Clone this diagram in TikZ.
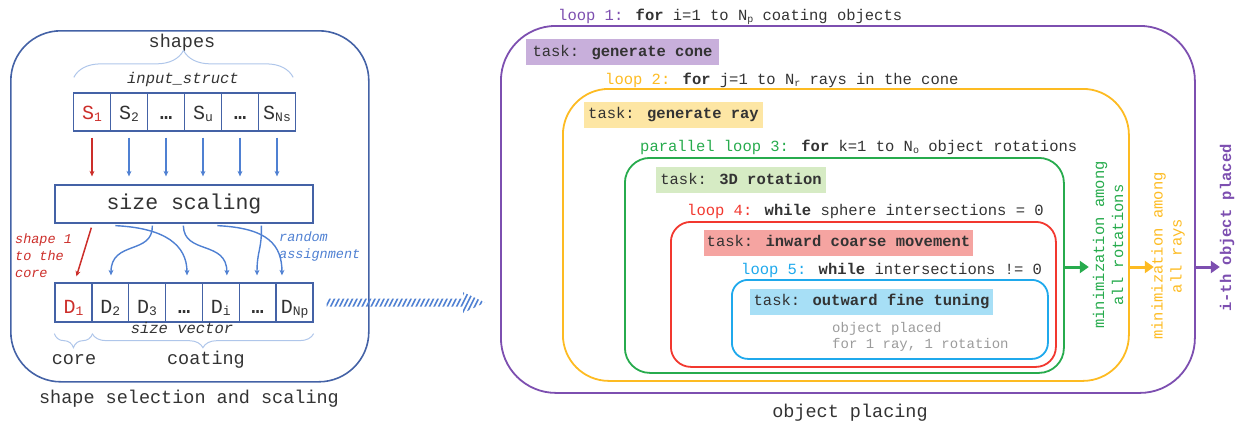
\documentclass[tikz,border=0pt]{standalone}
\usepackage{fontspec}
\setmainfont{Liberation Mono}
\usetikzlibrary{arrows.meta,decorations.pathreplacing,calc}
\definecolor{panelblue}{HTML}{4462A6}
\definecolor{arrblue}{HTML}{4F80D2}
\definecolor{bracecol}{HTML}{AFC6EA}
\definecolor{redL}{HTML}{CC2E2A}
\definecolor{txt}{HTML}{333333}
\definecolor{cpurple}{HTML}{7D4FB0}
\definecolor{fpurple}{HTML}{C8AFDB}
\definecolor{cyellow}{HTML}{FDBB22}
\definecolor{fyellow}{HTML}{FDE6A4}
\definecolor{cgreen}{HTML}{27AB4D}
\definecolor{fgreen}{HTML}{D6EBC4}
\definecolor{cred}{HTML}{F2382F}
\definecolor{fred}{HTML}{F5A4A1}
\definecolor{cblue}{HTML}{1FA9EC}
\definecolor{fblue}{HTML}{A7DFF6}
\definecolor{gtxt}{HTML}{9B9B9B}
\newcommand{\lsub}[1]{\raisebox{-2.5pt}{\fontsize{10}{10}\selectfont #1}}
\newcommand{\csub}[1]{\raisebox{-2.5pt}{\fontsize{13}{13}\selectfont #1}}
\begin{document}
\begin{tikzpicture}[x=1pt,y=-1pt,
  every node/.style={text=txt},
  panel/.style={draw=panelblue, line width=1.6pt, rounded corners=50pt, inner sep=0pt, anchor=north west},
  cellS/.style={draw=panelblue, line width=1.3pt, minimum width=37pt, minimum height=38pt, inner sep=0pt, font=\fontsize{20}{20}\selectfont, text height=15pt, text depth=1pt},
  cellD/.style={draw=panelblue, line width=1.3pt, minimum width=36.86pt, minimum height=39pt, inner sep=0pt, font=\fontsize{20}{20}\selectfont, text height=22pt, text depth=1pt},
  sarrow/.style={line width=1.4pt, arrblue, -{Stealth[length=5.5pt,width=5pt]}},
  bracestyle/.style={bracecol, line width=1pt, decorate},
  bigtxt/.style={font=\fontsize{18.5}{20}\selectfont, inner sep=0pt, anchor=base},
  itxt/.style={font=\fontsize{15.5}{18}\itshape\selectfont, inner sep=0pt, anchor=base},
  smallit/.style={font=\fontsize{13.5}{17}\itshape\selectfont, inner sep=0pt, align=left, anchor=west},
  loopbox/.style={line width=1.8pt, inner sep=0pt, anchor=north west},
  task/.style={minimum height=26pt, inner sep=0pt, font=\fontsize{15.5}{18}\selectfont, text height=10pt, text depth=2pt},
  lab/.style={anchor=base west, inner sep=0pt, font=\fontsize{15.5}{18}\selectfont},
  rottxt/.style={rotate=90, align=center, inner sep=0pt, font=\fontsize{15.5}{19}\selectfont},
  bigarrow/.style={line width=3pt, -{Triangle[length=9pt,width=12pt]}}
]
\useasboundingbox (0,0) rectangle (1239,424);

% ---------------- left panel ----------------
\node[panel, minimum width=358pt, minimum height=351pt] (leftpanel) at (10,30) {};
\node[bigtxt] (shapes) at (182,47) {shapes};
\node[itxt] (instruct) at (183,83) {input\_struct};

\node[cellS, text=redL] (s1) at (92,112) {S\csub{1}};
\node[cellS] (s2) at (129,112) {S\csub{2}};
\node[cellS] (s3) at (166,112) {\textbf{…}};
\node[cellS] (s4) at (203,112) {S\csub{u}};
\node[cellS] (s5) at (240,112) {\textbf{…}};
\node[cellS] (s6) at (277,112) {S\csub{Ns}};

\draw[bracestyle, decoration={brace, amplitude=27pt}] ($(s1.north west)+(1,-15)$) -- ($(s6.north east)+(-3,-15)$);

\node[draw=panelblue, line width=1.3pt, minimum width=258pt, minimum height=38pt, inner sep=0pt, font=\fontsize{21.5}{24}\selectfont] (scale) at (184,204) {size scaling};

\draw[sarrow, redL, shorten <=6pt, shorten >=8pt] (s1.south) -- (s1.south |- scale.north);
\foreach \n in {s2,s3,s4,s5,s6}
  \draw[sarrow, shorten <=6pt, shorten >=8pt] (\n.south) -- (\n.south |- scale.north);

\node[cellD, text=redL] (d1) at (73.43,302.5) {D\csub{1}};
\node[cellD] (d2) at (110.29,302.5) {D\csub{2}};
\node[cellD] (d3) at (147.14,302.5) {D\csub{3}};
\node[cellD] (d4) at (184,302.5) {\textbf{…}};
\node[cellD] (d5) at (220.86,302.5) {D\csub{i}};
\node[cellD] (d6) at (257.71,302.5) {\textbf{…}};
\node[cellD] (d7) at (294.57,302.5) {D\csub{Np}};

\draw[sarrow, redL, line width=1.5pt] ($(scale.south west)+(37,4)$) -- ($(d1.north)+(3,-6)$);
\draw[sarrow] ($(scale.south west)+(61,2)$) .. controls (165,228) and (187,245) .. ($(d4.north)+(3,-7)$);
\draw[sarrow] ($(scale.south west)+(98,2)$) .. controls (153,255) and (111,240) .. ($(d2.north)+(0.7,-7)$);
\draw[sarrow] ($(scale.south west)+(129,2)$) .. controls (184,255) and (227,240) .. ($(d5.north)+(6,-7)$);
\draw[sarrow] ($(scale.south west)+(207,2)$) .. controls (262,250) and (257,250) .. ($(d6.north)+(-0.7,-7)$);
\draw[sarrow] ($(scale.south west)+(163,2)$) .. controls (268,228) and (282,245) .. ($(d7.north)+(-12.6,-7)$);

\node[smallit, text=redL] (corelab) at (15,256) {shape 1\\to the\\core};
\node[smallit, text=arrblue] (randlab) at (279,246) {random\\assignment};

\node[itxt] (sizevec) at (182,333) {size vector};
\draw[bracestyle, decoration={brace, mirror, amplitude=14pt}] ($(d1.south west)+(0,11)$) -- ($(d1.south east)+(0,11)$);
\draw[bracestyle, decoration={brace, mirror, amplitude=14pt}] ($(d2.south west)+(1,11)$) -- ($(d7.south east)+(0,11)$);
\node[bigtxt] (core) at (74,364) {core};
\node[bigtxt] (coating) at (206,364) {coating};
\node[bigtxt] (leftcap) at (189,403) {shape selection and scaling};

% ---------------- right panel ----------------
\node[loopbox, draw=cpurple, rounded corners=55pt, minimum width=694pt, minimum height=367pt] (L1) at (500,25) {};
\node[loopbox, draw=cyellow, rounded corners=46pt, minimum width=566pt, minimum height=292pt] (L2) at (562,88) {};
\node[loopbox, draw=cgreen, rounded corners=25pt, minimum width=439pt, minimum height=215pt] (L3) at (624,157) {};
\node[loopbox, draw=cred, rounded corners=20pt, minimum width=385pt, minimum height=145pt] (L4) at (670,221) {};
\node[loopbox, draw=cblue, rounded corners=16pt, minimum width=316pt, minimum height=79pt] (L5) at (731,279) {};

\node[lab] (lab1) at (558,20) {{\color{cpurple}loop 1:} \textbf{for} i=1 to N\lsub{p} coating objects};
\node[lab] (lab2) at (605,84) {{\color{cyellow}loop 2:} \textbf{for} j=1 to N\lsub{r} rays in the cone};
\node[lab] (lab3) at (640,151) {{\color{cgreen}parallel loop 3:} \textbf{for} k=1 to N\lsub{o} object rotations};
\node[lab] (lab4) at (687,215) {{\color{cred}loop 4:} \textbf{while} sphere intersections = 0};
\node[lab] (lab5) at (741,274) {{\color{cblue}loop 5:} \textbf{while} intersections != 0};

\node[task, fill=fpurple, minimum width=193pt] (t1) at (622.5,52) {task: \textbf{generate cone}};
\node[task, fill=fyellow, minimum width=179pt] (t2) at (673.5,114.5) {task: \textbf{generate ray}};
\node[task, fill=fgreen, minimum width=170pt] (t3) at (741,180) {task: \textbf{3D rotation}};
\node[task, fill=fred, minimum width=269pt] (t4) at (838.5,242.5) {task: \textbf{inward coarse movement}};
\node[task, fill=fblue, minimum width=243pt] (t5) at (871.5,301.5) {task: \textbf{outward fine tuning}};

\node[anchor=west, align=left, inner sep=0pt, text=gtxt, font=\fontsize{14}{16}\selectfont] (placed) at (832,337) {object placed\\for 1 ray, 1 rotation};

\coordinate (g1) at ($(L3.east |- 0,267)+(24,0)$);
\coordinate (y1) at ($(L2.east |- 0,267)+(24,0)$);
\coordinate (p1) at ($(L1.east |- 0,267)+(24,0)$);
\draw[bigarrow, cgreen] (L3.east |- 0,267) -- (g1);
\draw[bigarrow, cyellow] (L2.east |- 0,267) -- (y1);
\draw[bigarrow, cpurple] (L1.east |- 0,267) -- (p1);

\node[rottxt, text=cgreen] (minrot) at (1108,245) {minimization among\\all rotations};
\node[rottxt, text=cyellow] (minray) at (1168,256) {minimization among\\all rays};
\node[rottxt, text=cpurple, font=\fontsize{15.5}{19}\bfseries\selectfont] (ith) at (1227,228) {i-th object placed};

\node[bigtxt] (rightcap) at (850,417) {object placing};

% ---------------- hatched arrow ----------------
\coordinate (hs) at ($(d7.east)+(13,0)$);
\coordinate (he) at ($(L1.west |- hs)+(-15,0)$);
\begin{scope}
  \clip ($(hs)+(0,-4)$) -- ($(he)+(-22,-4)$) -- ($(he)+(-22,-10.5)$) -- (he) -- ($(he)+(-22,10.5)$) -- ($(he)+(-22,4)$) -- ($(hs)+(0,4)$) -- cycle;
  \foreach \k in {0,...,38}
    \draw[arrblue, line width=1.6pt] ($(hs)+(\k*4.5-10,14)$) -- ++(12,-24);
\end{scope}
\end{tikzpicture}
\end{document}
